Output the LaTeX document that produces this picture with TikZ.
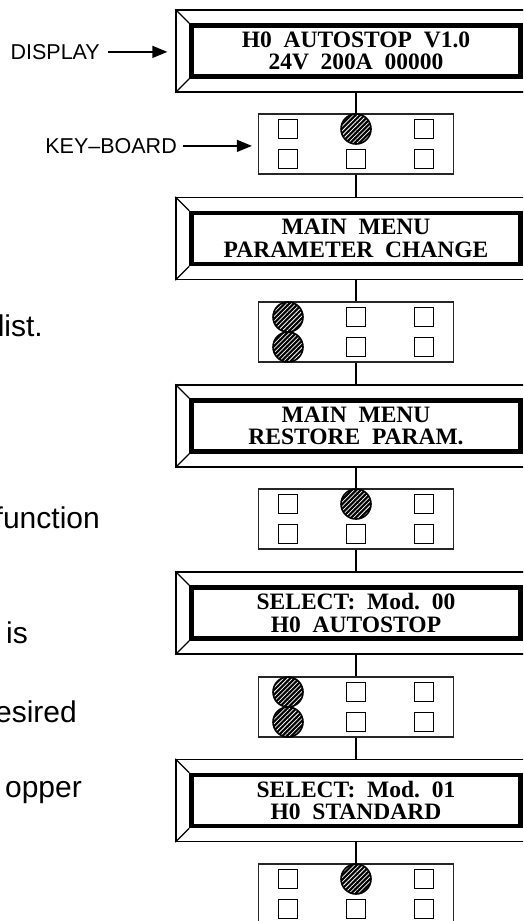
\documentclass[tikz,border=0pt]{standalone}
\usepackage{fontspec}
\setmainfont{Liberation Serif}
\newfontfamily\labelfont[Ligatures=TeX]{Liberation Sans}
\usepackage{tikz}
\usetikzlibrary{arrows.meta, patterns.meta, calc}
\tikzset{
  frame/.style={rectangle, draw=black, line width=1.3pt,
    minimum width=360pt, minimum height=82pt, inner sep=0pt},
  screen/.style={rectangle, draw=black, line width=4.5pt,
    minimum width=329pt, minimum height=51pt, inner sep=0pt,
    align=center, font=\fontsize{23.5}{22.5}\selectfont\bfseries},
  keypad/.style={rectangle, draw=black!85, line width=1.2pt,
    minimum width=195pt, minimum height=60pt, inner sep=0pt},
  key/.style={rectangle, draw=black, line width=1.4pt,
    minimum size=19pt, inner sep=0pt},
  pressed/.style={circle, draw=black, line width=1.6pt,
    minimum size=30pt, inner sep=0pt, preaction={fill=black},
    pattern={Lines[angle=45, distance=3.2pt, line width=0.75pt]},
    pattern color=white},
  tag/.style={font=\labelfont\fontsize{21.5}{26}\selectfont, inner sep=0pt},
  sidetext/.style={font=\labelfont\fontsize{30}{34}\selectfont,
    inner sep=0pt, anchor=base east},
  arrow/.style={-{Triangle[length=15pt, width=12pt]}, line width=1.3pt},
  line/.style={line width=1.5pt}
}

\begin{document}
\begin{tikzpicture}[x=1pt, y=-1pt]
  \useasboundingbox (0,0) rectangle (523,921);
  \clip (0,0) rectangle (523,921);

  % text cut off at the left edge
  \node[sidetext] (txtA) at (43,336) {list.};
  \node[sidetext] (txtB) at (100,528) {function};
  \node[sidetext] (txtC) at (28,643) {is};
  \node[sidetext] (txtD) at (77,722) {esired};
  \node[sidetext] (txtE) at (82,797) {opper};

  % displays
  \node[frame] (dispA) at (356,51) {};
  \node[screen] (scrA) at (356,51) {H0~~AUTOSTOP~~V1.0\\24V~~200A~~00000};
  \node[frame] (dispB) at (356,238.5) {};
  \node[screen] (scrB) at (356,238.5) {MAIN~~MENU\\PARAMETER~~CHANGE};
  \node[frame] (dispC) at (356,426) {};
  \node[screen] (scrC) at (356,426) {MAIN~~MENU\\RESTORE~~PARAM.};
  \node[frame] (dispD) at (356,613) {};
  \node[screen] (scrD) at (356,613) {SELECT:~~Mod.~~00\\H0~~AUTOSTOP};
  \node[frame] (dispE) at (356,800.5) {};
  \node[screen] (scrE) at (356,800.5) {SELECT:~~Mod.~~01\\H0~~STANDARD};
  \foreach \d/\s in {dispA/scrA, dispB/scrB, dispC/scrC, dispD/scrD, dispE/scrE}
    \draw[line width=1.3pt] (\d.north west) -- (\s.north west)
      (\d.south west) -- (\s.south west);

  % key-boards
  \node[keypad] (padA) at (356,144) {};
  \node[keypad] (padB) at (356,332) {};
  \node[keypad] (padC) at (356,519) {};
  \node[keypad] (padD) at (356,707) {};
  \node[keypad] (padE) at (356,894) {};

  \draw[line] (dispA) -- (padA);
  \draw[line] (padA) -- (dispB);
  \draw[line] (dispB) -- (padB);
  \draw[line] (padB) -- (dispC);
  \draw[line] (dispC) -- (padC);
  \draw[line] (padC) -- (dispD);
  \draw[line] (dispD) -- (padD);
  \draw[line] (padD) -- (dispE);
  \draw[line] (dispE) -- (padE);

  \foreach \p in {padA, padB, padC, padD, padE}
    \foreach \c/\dx in {l/-68, m/0, r/68}
      \foreach \r/\dy in {t/-15, b/15}
        \node[key] (\p-\c\r) at ($(\p)+(\dx,\dy)$) {};

  \node[pressed] (pushA) at (padA-mt) {};
  \node[pressed] (pushB1) at (padB-lt) {};
  \node[pressed] (pushB2) at (padB-lb) {};
  \node[pressed] (pushC) at (padC-mt) {};
  \node[pressed] (pushD1) at (padD-lt) {};
  \node[pressed] (pushD2) at (padD-lb) {};
  \node[pressed] (pushE) at (padE-mt) {};

  % labels
  \node[tag, anchor=base east] (displaytag) at (100,59.3) {DISPLAY};
  \node[tag, anchor=base east] (keytag) at (177,153.3) {KEY--BOARD};
  \draw[arrow, shorten <=8pt, shorten >=8pt] (displaytag.east) -- (displaytag.east -| dispA.west);
  \draw[arrow, shorten <=6pt, shorten >=6pt] (keytag.east) -- (keytag.east -| padA.west);
\end{tikzpicture}
\end{document}
